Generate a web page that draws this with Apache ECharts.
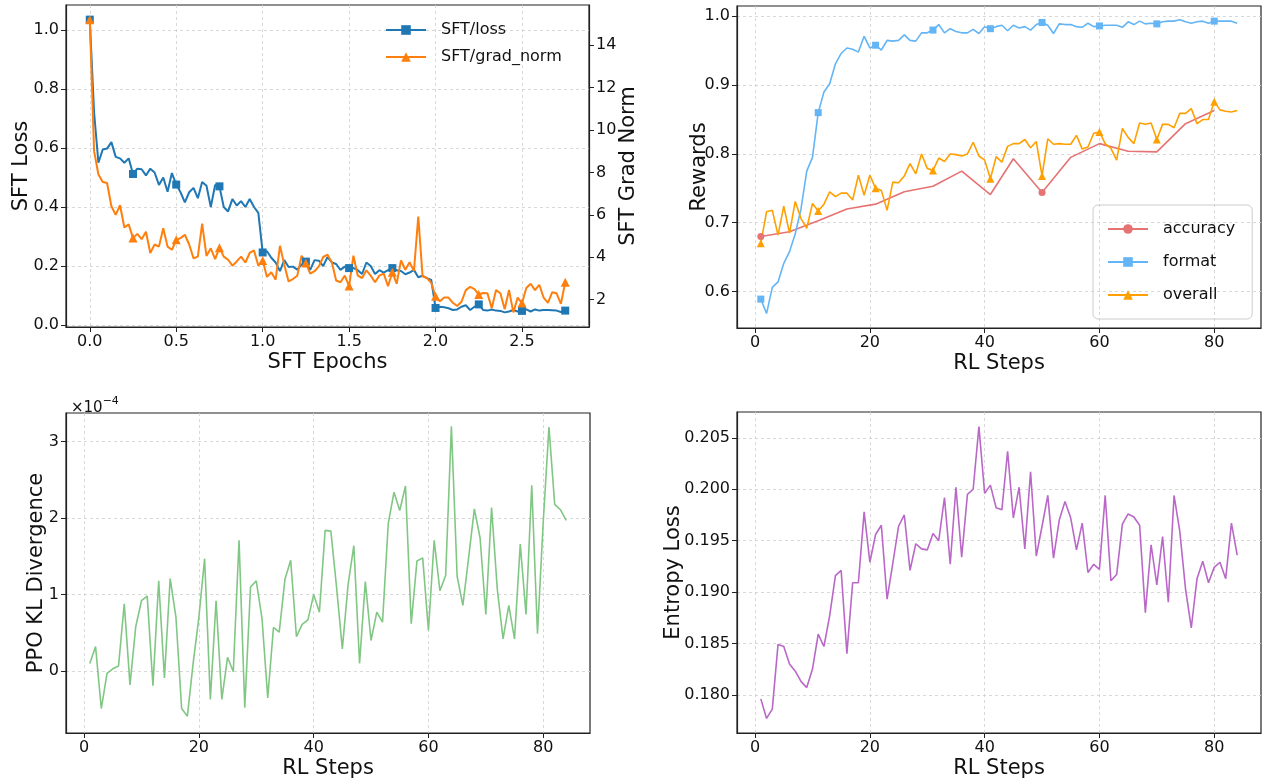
<!DOCTYPE html>
<html>
<head>
<meta charset="utf-8">
<title>SFT / RL training curves</title>
<script src="https://cdn.jsdelivr.net/npm/echarts@6/dist/echarts.min.js"></script>
<style>
  html, body { margin: 0; padding: 0; background: #fff; }
  #chart { width: 1263px; height: 780px; }
</style>
</head>
<body>
<div id="chart"></div>
<script>
// ---- top left: SFT loss / grad norm, one point per step, 40 steps per epoch ----
const sftStepsPerEpoch = 40
const sftMarkEvery = 10
const sftLoss = [
  1.035, 0.72, 0.55, 0.595, 0.598, 0.62, 0.57, 0.565, 0.55, 0.565, 0.512,
  0.53, 0.528, 0.507, 0.53, 0.517, 0.475, 0.50, 0.452, 0.515, 0.476,
  0.45, 0.416, 0.45, 0.465, 0.43, 0.485, 0.472, 0.40, 0.475, 0.47,
  0.40, 0.385, 0.427, 0.405, 0.42, 0.40, 0.427, 0.40, 0.38, 0.246,
  0.25, 0.228, 0.212, 0.183, 0.22, 0.197, 0.198, 0.188, 0.205, 0.215,
  0.187, 0.22, 0.218, 0.2, 0.23, 0.212, 0.207, 0.187, 0.198, 0.193,
  0.193, 0.186, 0.173, 0.212, 0.2, 0.173, 0.186, 0.178, 0.186, 0.193,
  0.186, 0.183, 0.172, 0.178, 0.187, 0.162, 0.167, 0.159, 0.153, 0.058,
  0.062, 0.06, 0.057, 0.051, 0.053, 0.062, 0.067, 0.051, 0.062, 0.07,
  0.051, 0.049, 0.053, 0.049, 0.048, 0.043, 0.046, 0.051, 0.046, 0.048,
  0.053, 0.046, 0.053, 0.049, 0.051, 0.051, 0.05, 0.049, 0.044, 0.049
]
const sftGradNorm = [
  15.2, 9.0, 7.9, 7.55, 7.5, 6.4, 6.0, 6.45, 5.4, 5.55, 4.9,
  5.1, 4.85, 5.2, 4.2, 4.6, 4.5, 5.37, 4.5, 4.35, 4.82,
  4.9, 5.06, 4.6, 3.95, 4.03, 5.58, 4.06, 4.42, 3.91, 4.45,
  4.03, 3.88, 3.6, 3.8, 4.03, 3.75, 4.2, 4.32, 3.6, 3.85,
  3.07, 3.29, 2.94, 4.54, 3.65, 2.86, 2.97, 3.13, 4.07, 3.73,
  3.23, 3.34, 3.57, 4.01, 4.12, 3.76, 2.9, 2.82, 3.13, 2.64,
  4.07, 3.13, 3.02, 3.38, 3.13, 2.82, 3.13, 3.23, 2.63, 3.29,
  2.75, 3.85, 3.41, 3.76, 3.35, 5.92, 3.1, 3.02, 2.79, 2.16,
  1.92, 2.1, 2.1, 1.85, 1.7, 1.9, 2.45, 2.6, 2.5, 2.24,
  2.31, 2.3, 1.6, 2.45, 2.3, 1.55, 2.45, 1.4, 2.1, 1.84,
  2.55, 2.75, 2.45, 2.7, 2.1, 1.85, 2.35, 2.3, 1.8, 2.82
]
const sftEpochTicks = [0, 0.5, 1, 1.5, 2, 2.5]
const sftLossTicks = [0, 0.2, 0.4, 0.6, 0.8, 1.0]
const sftGradTicks = [2, 4, 6, 8, 10, 12, 14]

// ---- top right: rewards, RL steps 1..84 ----
const rlStepCount = 84
const accuracySteps = [1, 6, 11, 16, 21, 26, 31, 36, 41, 45, 50, 55, 60, 65, 70, 75, 80]
const accuracy = [0.68, 0.687, 0.703, 0.72, 0.727, 0.745, 0.753, 0.775, 0.741, 0.793,
  0.744, 0.795, 0.815, 0.804, 0.803, 0.844, 0.863]
const accuracyMarkSteps = [1, 50]
const formatReward = [
  0.589, 0.568, 0.606, 0.614, 0.641, 0.658, 0.684, 0.72, 0.775, 0.795,
  0.86, 0.89, 0.902, 0.931, 0.946, 0.954, 0.952, 0.948, 0.971, 0.954,
  0.958, 0.951, 0.965, 0.964, 0.965, 0.973, 0.965, 0.964, 0.976, 0.976,
  0.98, 0.988, 0.976, 0.982, 0.978, 0.976, 0.976, 0.981, 0.975, 0.985,
  0.982, 0.985, 0.987, 0.979, 0.987, 0.983, 0.985, 0.98, 0.988, 0.991,
  0.987, 0.975, 0.989, 0.988, 0.988, 0.985, 0.984, 0.99, 0.985, 0.986,
  0.987, 0.987, 0.987, 0.984, 0.992, 0.988, 0.993, 0.989, 0.99, 0.989,
  0.992, 0.993, 0.993, 0.995, 0.992, 0.99, 0.992, 0.993, 0.99, 0.993,
  0.993, 0.993, 0.993, 0.99
]
const overallReward = [
  0.67, 0.716, 0.718, 0.682, 0.724, 0.685, 0.731, 0.706, 0.692, 0.728,
  0.717, 0.727, 0.745, 0.738, 0.743, 0.743, 0.733, 0.769, 0.74, 0.769,
  0.75, 0.747, 0.718, 0.759, 0.758, 0.768, 0.786, 0.771, 0.8, 0.779,
  0.776, 0.794, 0.789, 0.8, 0.799, 0.797, 0.8, 0.817, 0.797, 0.791,
  0.764, 0.796, 0.788, 0.811, 0.815, 0.815, 0.821, 0.809, 0.818, 0.768,
  0.822, 0.814, 0.815, 0.814, 0.814, 0.827, 0.807, 0.81, 0.83, 0.832,
  0.815, 0.808, 0.791, 0.837, 0.824, 0.815, 0.845, 0.843, 0.845, 0.821,
  0.843, 0.843, 0.838, 0.859, 0.859, 0.866, 0.844, 0.85, 0.85, 0.876,
  0.864, 0.862, 0.861, 0.863
]
const rewardMarkSteps = [1, 11, 21, 31, 41, 50, 60, 70, 80]
const rlStepTicks = [0, 20, 40, 60, 80]
const rewardTicks = [0.6, 0.7, 0.8, 0.9, 1.0]

// ---- bottom left: PPO KL divergence, in units of 1e-4 ----
const klDivE4 = [
  0.1, 0.32, -0.49, -0.03, 0.03, 0.065, 0.88, -0.18, 0.58, 0.92,
  0.98, -0.19, 1.18, -0.09, 1.21, 0.71, -0.49, -0.59, 0.1, 0.7,
  1.47, -0.37, 0.92, -0.37, 0.18, -0.01, 1.71, -0.48, 1.1, 1.18,
  0.69, -0.35, 0.57, 0.51, 1.2, 1.45, 0.45, 0.61, 0.67, 1.0,
  0.77, 1.84, 1.83, 1.09, 0.29, 1.13, 1.64, 0.1, 1.17, 0.4,
  0.77, 0.64, 1.93, 2.34, 2.1, 2.42, 0.62, 1.44, 1.48, 0.53,
  1.71, 1.05, 1.25, 3.2, 1.24, 0.86, 1.48, 2.12, 1.74, 0.74,
  2.14, 1.07, 0.42, 0.86, 0.42, 1.66, 0.74, 2.43, 0.49, 1.95,
  3.19, 2.18, 2.11, 1.97
]
const klTicks = [0, 1, 2, 3]

// ---- bottom right: entropy loss ----
const entropyLoss = [
  0.1796, 0.1777, 0.1786, 0.1849, 0.1847, 0.183, 0.1823, 0.1813, 0.1807, 0.1825,
  0.1859, 0.1847, 0.1877, 0.1916, 0.1921, 0.184, 0.1909, 0.1909, 0.1978, 0.1929,
  0.1956, 0.1965, 0.1893, 0.1928, 0.1964, 0.1975, 0.1921, 0.1947, 0.1942, 0.1941,
  0.1957, 0.195, 0.1992, 0.1927, 0.2002, 0.1934, 0.1995, 0.2, 0.2061, 0.1996,
  0.2004, 0.1982, 0.198, 0.2037, 0.1972, 0.2002, 0.1942, 0.2017, 0.1935, 0.1964,
  0.1994, 0.1933, 0.197, 0.1988, 0.1972, 0.1941, 0.1967, 0.1919, 0.1927, 0.1922,
  0.1994, 0.1911, 0.1917, 0.1966, 0.1976, 0.1973, 0.1965, 0.188, 0.1946, 0.1907,
  0.1954, 0.189, 0.1994, 0.1959, 0.1903, 0.1865, 0.1913, 0.193, 0.1909, 0.1924,
  0.1929, 0.1913, 0.1967, 0.1936
]
const entropyTicks = [0.18, 0.185, 0.19, 0.195, 0.2, 0.205]

const font = 'DejaVu Sans'
const ink = '#111'

// x,y pairs; only the listed points keep the series marker
function points(xs, ys, marked) {
  return ys.map(function (y, i) {
    const item = { value: [xs[i], y] }
    if (!marked(i, xs[i])) item.symbol = 'none'
    return item
  })
}

function axis(gridIndex, min, max, ticks, digits, name, nameGap, extra) {
  const step = ticks[1] - ticks[0]
  return Object.assign({
    type: 'value',
    gridIndex: gridIndex,
    min: min,
    max: max,
    minInterval: step,
    maxInterval: step,
    name: name,
    nameLocation: 'middle',
    nameGap: nameGap,
    nameMoveOverlap: false,
    nameTextStyle: { fontSize: 21, color: ink, fontFamily: font },
    axisLine: { show: true, onZero: false, lineStyle: { color: '#222', width: 1.2 } },
    axisTick: { show: true, length: 5, customValues: ticks, lineStyle: { color: '#222', width: 1 } },
    axisLabel: {
      customValues: ticks,
      fontSize: 16, color: ink, fontFamily: font, margin: 7,
      formatter: function (v) { return v.toFixed(digits) }
    },
    splitLine: { show: true, lineStyle: { type: [3, 3], color: '#cfcfcf', width: 0.8 } }
  }, extra || {})
}

const sftEpochs = sftLoss.map(function (v, i) { return i / sftStepsPerEpoch })
const rlSteps = Array.from({ length: rlStepCount }, function (v, i) { return i + 1 })

const chart = echarts.init(document.getElementById('chart'), null, { renderer: 'canvas' })

const option = {
  animation: false,
  backgroundColor: '#fff',
  textStyle: { fontFamily: font },
  title: {
    left: 66, top: 391,
    text: '{a|×10}{b|−4}',
    textStyle: {
      fontWeight: 'normal',
      rich: {
        a: { fontSize: 15, color: ink, fontFamily: font, fontWeight: 'normal', verticalAlign: 'bottom', lineHeight: 20 },
        b: { fontSize: 11, color: ink, fontFamily: font, fontWeight: 'normal', verticalAlign: 'top', lineHeight: 12 }
      }
    }
  },
  grid: [
    { left: 66, top: 5, width: 523, height: 322, show: true, borderColor: '#222', borderWidth: 1.2 },
    { left: 737, top: 6, width: 524, height: 322, show: true, borderColor: '#222', borderWidth: 1.2 },
    { left: 66, top: 413, width: 524, height: 321, show: true, borderColor: '#222', borderWidth: 1.2 },
    { left: 737, top: 412, width: 524, height: 322, show: true, borderColor: '#222', borderWidth: 1.2 }
  ],
  xAxis: [
    axis(0, -0.1375, 2.8875, sftEpochTicks, 1, 'SFT Epochs', 25),
    axis(1, -3.15, 88.15, rlStepTicks, 0, 'RL Steps', 25),
    axis(2, -3.15, 88.15, rlStepTicks, 0, 'RL Steps', 25),
    axis(3, -3.15, 88.15, rlStepTicks, 0, 'RL Steps', 25)
  ],
  yAxis: [
    axis(0, -0.0066, 1.0846, sftLossTicks, 1, 'SFT Loss', 34),
    axis(0, 0.71, 15.89, sftGradTicks, 0, 'SFT Grad Norm', 29, {
      position: 'right', splitLine: { show: false }
    }),
    axis(1, 0.547, 1.015, rewardTicks, 1, 'Rewards', 27),
    axis(2, -0.81, 3.375, klTicks, 0, 'PPO KL Divergence', 19),
    axis(3, 0.17628, 0.20752, entropyTicks, 3, 'Entropy Loss', 53)
  ],
  legend: [
    {
      data: ['SFT/loss', 'SFT/grad_norm'],
      orient: 'vertical', left: 380, top: 17,
      itemWidth: 40, itemHeight: 12, itemGap: 11,
      textStyle: { fontSize: 16, color: ink, fontFamily: font, padding: [0, 0, 0, 10] }
    },
    {
      data: ['accuracy', 'format', 'overall'],
      orient: 'vertical', left: 1093, top: 205,
      padding: [16, 17, 16, 14],
      borderColor: '#cccccc', borderWidth: 1, borderRadius: 5,
      itemWidth: 40, itemHeight: 12, itemGap: 17,
      textStyle: { fontSize: 16, color: ink, fontFamily: font, padding: [0, 0, 0, 10] }
    }
  ],
  series: [
    {
      name: 'SFT/loss', type: 'line', xAxisIndex: 0, yAxisIndex: 0,
      symbol: 'rect', symbolSize: 8, color: '#1f77b4',
      lineStyle: { width: 2 }, itemStyle: { color: '#1f77b4' },
      data: points(sftEpochs, sftLoss, function (i) { return i % sftMarkEvery === 0 })
    },
    {
      name: 'SFT/grad_norm', type: 'line', xAxisIndex: 0, yAxisIndex: 1,
      symbol: 'triangle', symbolSize: 9, color: '#ff7f0e',
      lineStyle: { width: 2 }, itemStyle: { color: '#ff7f0e' },
      data: points(sftEpochs, sftGradNorm, function (i) { return i % sftMarkEvery === 0 })
    },
    {
      name: 'accuracy', type: 'line', xAxisIndex: 1, yAxisIndex: 2,
      symbol: 'circle', symbolSize: 7, color: '#e57373',
      lineStyle: { width: 1.6 }, itemStyle: { color: '#e57373' },
      data: points(accuracySteps, accuracy, function (i, s) { return accuracyMarkSteps.indexOf(s) >= 0 })
    },
    {
      name: 'format', type: 'line', xAxisIndex: 1, yAxisIndex: 2,
      symbol: 'rect', symbolSize: 7, color: '#64b5f6',
      lineStyle: { width: 1.6 }, itemStyle: { color: '#64b5f6' },
      data: points(rlSteps, formatReward, function (i, s) { return rewardMarkSteps.indexOf(s) >= 0 })
    },
    {
      name: 'overall', type: 'line', xAxisIndex: 1, yAxisIndex: 2,
      symbol: 'triangle', symbolSize: 8, color: '#ffa000',
      lineStyle: { width: 1.6 }, itemStyle: { color: '#ffa000' },
      data: points(rlSteps, overallReward, function (i, s) { return rewardMarkSteps.indexOf(s) >= 0 })
    },
    {
      name: 'kl', type: 'line', xAxisIndex: 2, yAxisIndex: 3,
      symbol: 'none', color: '#81c784', lineStyle: { width: 1.6 },
      data: rlSteps.map(function (s, i) { return [s, klDivE4[i]] })
    },
    {
      name: 'entropy', type: 'line', xAxisIndex: 3, yAxisIndex: 4,
      symbol: 'none', color: '#ba68c8', lineStyle: { width: 1.6 },
      data: rlSteps.map(function (s, i) { return [s, entropyLoss[i]] })
    }
  ]
}

option && chart.setOption(option)
</script>
</body>
</html>
